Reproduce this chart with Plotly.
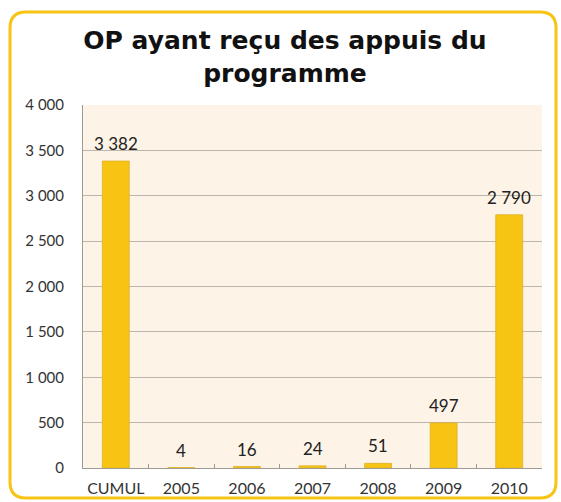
import plotly.graph_objects as go

categories = ["CUMUL", "2005", "2006", "2007", "2008", "2009", "2010"]
op_counts = [3382, 4, 16, 24, 51, 497, 2790]
y_ticks = [0, 500, 1000, 1500, 2000, 2500, 3000, 3500, 4000]

W, H = 561, 502
ML, MR, MT, MB = 83, 19, 105, 34
PW, PH = W - ML - MR, H - MT - MB

GOLD = "#F7C414"
FONT = "Lato, 'DejaVu Sans', sans-serif"
TITLE_FONT = "'DejaVu Sans', sans-serif"


def px_to_paper(x, y):
    return (x - ML) / PW, (H - MB - y) / PH


def rounded_rect_path(x0, y0, x1, y1, r):
    # rounded rectangle in pixel space, converted to paper coordinates
    def P(x, y):
        px, py = px_to_paper(x, y)
        return f"{px:.5f},{py:.5f}"
    return (
        f"M {P(x0 + r, y0)} L {P(x1 - r, y0)} Q {P(x1, y0)} {P(x1, y0 + r)} "
        f"L {P(x1, y1 - r)} Q {P(x1, y1)} {P(x1 - r, y1)} "
        f"L {P(x0 + r, y1)} Q {P(x0, y1)} {P(x0, y1 - r)} "
        f"L {P(x0, y0 + r)} Q {P(x0, y0)} {P(x0 + r, y0)} Z"
    )


def fmt_thousands(v):
    return f"{v:,}".replace(",", " ")


fig = go.Figure(
    go.Bar(
        x=categories,
        y=op_counts,
        marker=dict(color=GOLD, line=dict(color="#E0B020", width=0.8)),
        width=0.41,
    )
)

# value labels above each bar (x given as category index)
for i, val in enumerate(op_counts):
    fig.add_annotation(
        x=i,
        y=val,
        xref="x",
        yref="y",
        text=fmt_thousands(val),
        showarrow=False,
        yanchor="bottom",
        yshift=5,
        font=dict(family=FONT, size=17, color="#222222"),
    )

fig.update_layout(
    width=W,
    height=H,
    margin=dict(l=ML, r=MR, t=MT, b=MB),
    paper_bgcolor="white",
    plot_bgcolor="#FDF3E6",
    separators=", ",
    showlegend=False,
    title=dict(
        text="OP ayant reçu des appuis du<br>programme",
        x=0.508,
        xanchor="center",
        y=0.902,
        yanchor="middle",
        font=dict(family=TITLE_FONT, size=25, color="#111111", weight="bold"),
    ),
    xaxis=dict(
        type="category",
        range=[-0.5, len(categories) - 0.5],
        automargin=False,
        showgrid=False,
        showline=True,
        linecolor="#9E9A94",
        linewidth=1,
        ticks="inside",
        tickson="boundaries",
        ticklen=4,
        tickcolor="#9E9A94",
        tickangle=0,
        ticklabelstandoff=6,
        tickfont=dict(family=FONT, size=16, color="#333333"),
    ),
    yaxis=dict(
        range=[0, 4000],
        automargin=False,
        tickvals=y_ticks,
        tickformat=",d",
        showgrid=True,
        gridcolor="#BDB6AC",
        gridwidth=1,
        showline=True,
        linecolor="#9E9A94",
        linewidth=1,
        ticks="",
        ticklabelstandoff=15,
        tickfont=dict(family=FONT, size=15, color="#333333"),
        zeroline=False,
    ),
    shapes=[
        dict(
            type="path",
            xref="paper",
            yref="paper",
            path=rounded_rect_path(10, 12, 556, 498, 16),
            line=dict(color=GOLD, width=3),
            fillcolor="rgba(0,0,0,0)",
            layer="below",
        )
    ],
)

fig.write_html("out.html")
